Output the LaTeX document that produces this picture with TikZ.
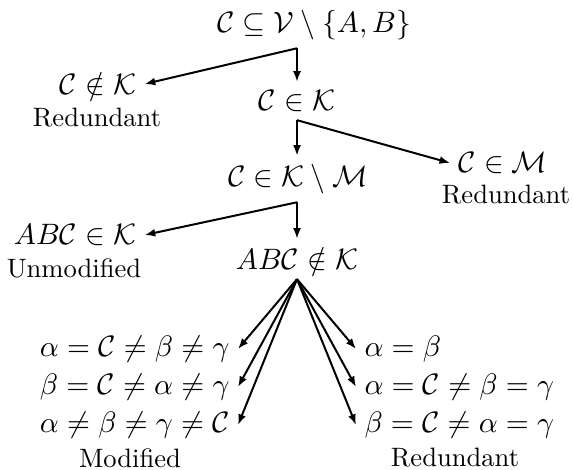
\RequirePackage{fix-cm}
\documentclass[tikz,border=0pt]{standalone}
\usepackage{amsmath}
\usepackage{amssymb}
\usetikzlibrary{arrows.meta,positioning}

\begin{document}
\begin{tikzpicture}[
  x=0.376pt, y=-0.376pt,
  cond/.style={inner sep=3pt, font=\fontsize{11.1}{13}\selectfont},
  verdict/.style={inner sep=1pt},
  arr/.style={-{Latex[length=4pt,width=3pt]}, line width=0.75pt}
]
  \useasboundingbox (0,0) rectangle (574,470);

  % main column
  \node[cond] (root) at (314,25) {$\mathcal{C}\subseteq\mathcal{V}\setminus\{A,B\}$};
  \node[cond] (inK) at (297,101) {$\mathcal{C}\in\mathcal{K}$};
  \node[cond] (inKM) at (298,179) {$\mathcal{C}\in\mathcal{K}\setminus\mathcal{M}$};
  \node[cond] (abcOut) at (297,259) {$AB\mathcal{C}\notin\mathcal{K}$};

  % side branches
  \node[cond] (notK) at (98,84) {$\mathcal{C}\notin\mathcal{K}$};
  \node[verdict] (redA) at (97,118) {Redundant};
  \node[cond] (inM) at (503,163) {$\mathcal{C}\in\mathcal{M}$};
  \node[verdict] (redB) at (506,195) {Redundant};
  \node[cond] (abcIn) at (75,235) {$AB\mathcal{C}\in\mathcal{K}$};
  \node[verdict] (unmod) at (74,268) {Unmodified};

  % leaves of the last split
  \node[cond, anchor=east] (modA) at (238,349) {$\alpha=\mathcal{C}\neq\beta\neq\gamma$};
  \node[cond, anchor=east] (modB) at (238,387) {$\beta=\mathcal{C}\neq\alpha\neq\gamma$};
  \node[cond, anchor=east] (modC) at (238,425) {$\alpha\neq\beta\neq\gamma\neq\mathcal{C}$};
  \node[verdict] (modif) at (130,458) {Modified};
  \node[cond, anchor=west] (redX) at (356,349) {$\alpha=\beta$};
  \node[cond, anchor=west] (redY) at (356,387) {$\alpha=\mathcal{C}\neq\beta=\gamma$};
  \node[cond, anchor=west] (redZ) at (356,425) {$\beta=\mathcal{C}\neq\alpha=\gamma$};
  \node[verdict] (redC) at (455,458) {Redundant};

  \coordinate (fork) at (inK.north |- root.south);
  \draw[arr] (fork) -- (inK);
  \draw[arr] (fork) -- (notK.east);
  \draw[arr] (inK.south) -- (inK.south |- inKM.north);
  \draw[arr] (inK.south) -- (inM.west);
  \draw[arr] (inKM.south -| inK.south) -- (abcOut);
  \draw[arr] (inKM.south -| inK.south) -- (abcIn.east);
  \foreach \leaf in {modA,modB,modC}
    \draw[arr] (abcOut.south) -- (\leaf.east);
  \foreach \leaf in {redX,redY,redZ}
    \draw[arr] (abcOut.south) -- (\leaf.west);
\end{tikzpicture}
\end{document}
